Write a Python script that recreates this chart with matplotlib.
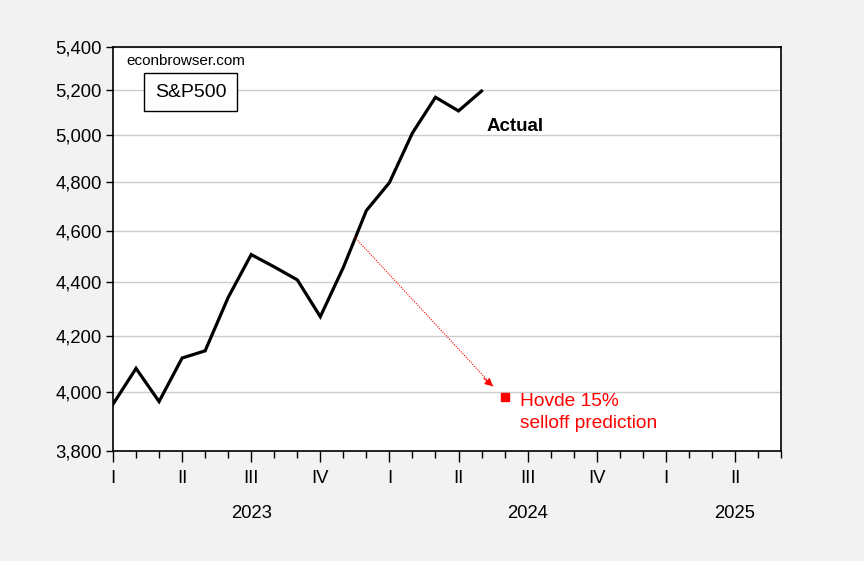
import matplotlib
matplotlib.use("Agg")
import matplotlib.pyplot as plt
from matplotlib.ticker import FixedLocator, FuncFormatter, NullLocator
import matplotlib.transforms as mtransforms

plt.rcParams["font.family"] = ["Liberation Sans", "DejaVu Sans"]

# monthly S&P500, Jan 2023 .. May 2024 (index 0 = Jan 2023)
sp500 = [3958, 4083, 3967, 4120, 4146, 4343, 4508, 4460, 4410, 4271,
         4458, 4684, 4799, 5011, 5169, 5108, 5197]
months = list(range(len(sp500)))

# Hovde 15% selloff prediction, Jun 2024
hovde_month = 17
hovde_value = 3983

# arrow endpoints (month index, level)
arrow_from = (10.48, 4578)
arrow_to = (16.5, 4020)

y_ticks = [3800, 4000, 4200, 4400, 4600, 4800, 5000, 5200, 5400]
quarter_labels = ["I", "II", "III", "IV"] * 2 + ["I", "II"]
years = ["2023", "2024", "2025"]
year_centers = [6, 18, 27]

fig = plt.figure(figsize=(8.64, 5.61), dpi=100, facecolor="#f2f2f2")
ax = fig.add_axes([0.1308, 0.1961, 0.7731, 0.7201])
ax.set_facecolor("white")

ax.plot(months, sp500, color="black", lw=2.3, solid_joinstyle="miter", zorder=3)
ax.plot([hovde_month], [hovde_value], marker="s", color="red", ms=5.3, ls="none", zorder=4)

# dotted shaft plus a small solid head
ax.plot([arrow_from[0], arrow_to[0]], [arrow_from[1], arrow_to[1]],
        color="red", lw=0.8, ls=(0, (1, 1.2)), zorder=4)
ax.annotate("", xy=arrow_to, xytext=(arrow_to[0] - 0.4, arrow_to[1] + 28),
            arrowprops=dict(arrowstyle="-|>", color="red", lw=0.8,
                            mutation_scale=12, shrinkA=0, shrinkB=0))

ax.set_yscale("log")
ax.set_ylim(3800, 5400)
ax.yaxis.set_major_locator(FixedLocator(y_ticks))
ax.yaxis.set_minor_locator(NullLocator())
ax.yaxis.set_major_formatter(FuncFormatter(lambda v, p: f"{v:,.0f}"))
ax.grid(axis="y", color="#cccccc", lw=1.0)
ax.set_axisbelow(True)

ax.set_xlim(0, 29)
ax.xaxis.set_major_locator(FixedLocator(list(range(0, 30, 3))))
ax.xaxis.set_minor_locator(FixedLocator(list(range(0, 30))))
ax.set_xticklabels(quarter_labels)
ax.tick_params(axis="x", which="major", length=8, width=1, direction="out",
               labelsize=13.3, pad=6)
ax.tick_params(axis="x", which="minor", length=5, width=1, direction="out")
ax.tick_params(axis="y", which="major", length=5, width=1, direction="out",
               labelsize=13.3, pad=3)

for sp in ax.spines.values():
    sp.set_linewidth(1.2)
    sp.set_color("black")

trans = mtransforms.blended_transform_factory(ax.transData, ax.transAxes)
for yr, xc in zip(years, year_centers):
    ax.text(xc, -0.155, yr, transform=trans, ha="center", va="center", fontsize=13.3)

ax.text(0.02, 0.965, "econbrowser.com", transform=ax.transAxes, fontsize=11,
        ha="left", va="center")
ax.text(0.063, 0.888, "S&P500", transform=ax.transAxes, fontsize=14,
        ha="left", va="center",
        bbox=dict(boxstyle="square,pad=0.55", fc="white", ec="black", lw=1))
ax.text(16.2, 5040, "Actual", fontsize=13.5, fontweight="bold", ha="left", va="center")
ax.text(17.65, 3995, "Hovde 15%\nselloff prediction", color="red", fontsize=13.8,
        ha="left", va="top", linespacing=1.38)

fig.savefig("out.png", dpi=100, facecolor=fig.get_facecolor())
